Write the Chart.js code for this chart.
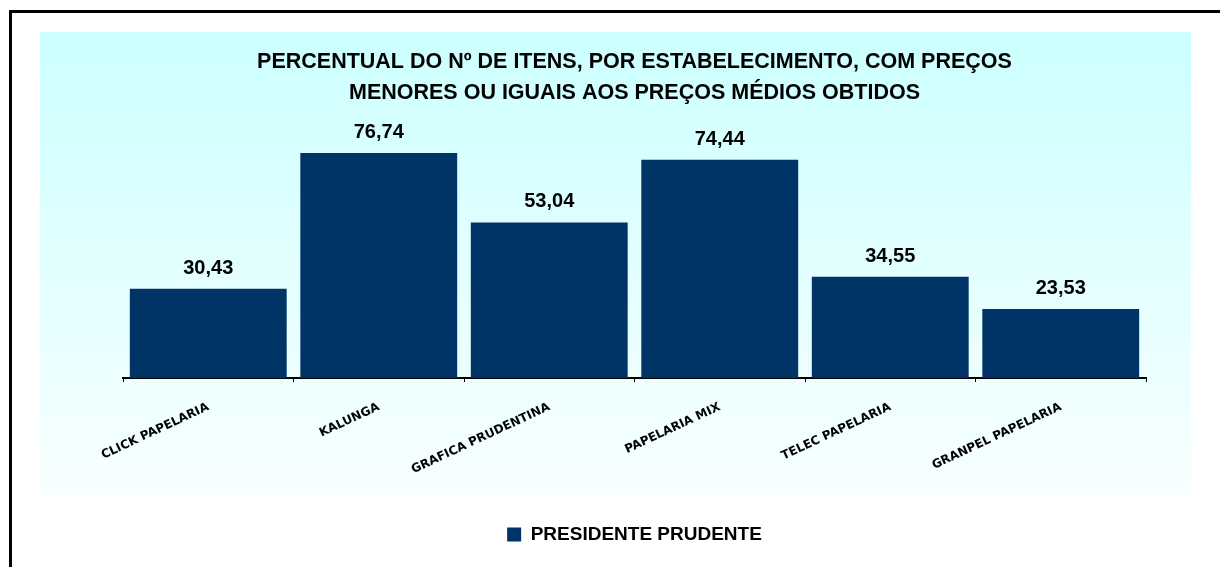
<!DOCTYPE html>
<html>
<head>
<meta charset="utf-8">
<script src="https://cdn.jsdelivr.net/npm/chart.js@4"></script>
<style>
  html, body { margin: 0; padding: 0; background: #fff; }
  #wrap { width: 1220px; height: 567px; position: relative; }
</style>
</head>
<body>
<div id="wrap"><canvas id="c" width="1220" height="567"></canvas></div>
<script>
// values
var categories = ["CLICK PAPELARIA", "KALUNGA", "GRAFICA PRUDENTINA", "PAPELARIA MIX", "TELEC PAPELARIA", "GRANPEL PAPELARIA"];
var seriesName = "PRESIDENTE PRUDENTE";
var values = [30.43, 76.74, 53.04, 74.44, 34.55, 23.53];
var titleLines = ["PERCENTUAL DO Nº DE ITENS, POR ESTABELECIMENTO, COM PREÇOS", "MENORES OU IGUAIS AOS PREÇOS MÉDIOS OBTIDOS"];

var barColor = "#003366";
var arial = "'Liberation Sans', Arial, sans-serif";

// panel background + outer frame
var backdrop = {
  id: "backdrop",
  beforeDraw: function (chart) {
    var ctx = chart.ctx;
    ctx.save();
    ctx.fillStyle = "#fff";
    ctx.fillRect(0, 0, chart.width, chart.height);
    var g = ctx.createLinearGradient(0, 32, 0, 496);
    g.addColorStop(0, "#ccffff");
    g.addColorStop(1, "#f8ffff");
    ctx.fillStyle = g;
    ctx.fillRect(40, 32, 1151, 464);
    ctx.strokeStyle = "#000";
    ctx.lineWidth = 3;
    ctx.beginPath();
    ctx.moveTo(10.5, 600);
    ctx.lineTo(10.5, 11.5);
    ctx.lineTo(1240, 11.5);
    ctx.stroke();
    ctx.restore();
  }
};

// numbers above the bars
var barValues = {
  id: "barValues",
  afterDatasetsDraw: function (chart) {
    var ctx = chart.ctx;
    var meta = chart.getDatasetMeta(0);
    ctx.save();
    ctx.font = "bold 20px " + arial;
    ctx.fillStyle = "#000";
    ctx.textAlign = "center";
    ctx.textBaseline = "alphabetic";
    meta.data.forEach(function (bar, i) {
      var txt = values[i].toFixed(2).replace(".", ",");
      ctx.fillText(txt, bar.x, bar.y - 15);
    });
    ctx.restore();
  }
};

new Chart(document.getElementById("c"), {
  type: "bar",
  data: {
    labels: categories,
    datasets: [{
      label: seriesName,
      data: values,
      backgroundColor: barColor,
      borderWidth: 0,
      barPercentage: 0.92,
      categoryPercentage: 1.0
    }]
  },
  options: {
    responsive: false,
    animation: false,
    devicePixelRatio: 1,
    layout: { padding: { left: 123, right: 74, top: 0, bottom: 13 } },
    plugins: {
      title: {
        display: true,
        text: titleLines,
        color: "#000",
        font: { family: arial, size: 21.5, weight: "bold", lineHeight: 1.42 },
        padding: { top: 47, bottom: 6 }
      },
      legend: {
        position: "bottom",
        labels: {
          color: "#000",
          font: { family: arial, size: 19, weight: "bold" },
          boxWidth: 14,
          boxHeight: 14,
          padding: 30
        }
      },
      tooltip: { enabled: false }
    },
    scales: {
      y: {
        display: false,
        min: 0,
        max: 90
      },
      x: {
        border: { display: true, color: "#000", width: 2 },
        grid: { drawOnChartArea: false, drawTicks: true, tickLength: 4, color: "#000", offset: true },
        ticks: {
          color: "#000",
          minRotation: 25,
          maxRotation: 25,
          padding: 18,
          font: { family: "'DejaVu Sans', sans-serif", size: 12, weight: "bold" }
        }
      }
    }
  },
  plugins: [backdrop, barValues]
});
</script>
</body>
</html>
